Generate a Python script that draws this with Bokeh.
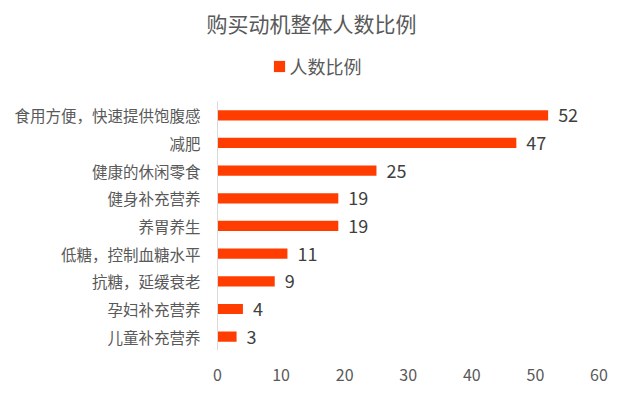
from bokeh.plotting import figure
from bokeh.models import (ColumnDataSource, Range1d, LabelSet, Label, Legend, LegendItem)
from bokeh.core.properties import value
from bokeh.embed import file_html
from bokeh.resources import INLINE

categories = ["食用方便，快速提供饱腹感", "减肥", "健康的休闲零食", "健身补充营养", "养胃养生",
              "低糖，控制血糖水平", "抗糖，延缓衰老", "孕妇补充营养", "儿童补充营养"]
values = [52, 47, 25, 19, 19, 11, 9, 4, 3]
series_name = "人数比例"
title_text = "购买动机整体人数比例"
x_ticks = [0, 10, 20, 30, 40, 50, 60]

FONT = "Noto Sans CJK SC"
BAR = "#FF3D00"
GRAY = "#595959"

# layout (pixels)
W, H = 619, 398
BOTTOM = 48                  # space for x tick labels
X0_PX, X60_PX = 217, 598.5   # pixel positions of x=0 and x=60
BAND = 27.67                 # pixel height of one category band

n = len(categories)
pos = [n - 1 - i for i in range(n)]   # top category highest

src = ColumnDataSource(dict(cat=categories, pos=pos, val=values,
                            lab=[str(v) for v in values], zero=[0] * n))

k = (X60_PX - X0_PX) / (x_ticks[-1] - x_ticks[0])
frame_h = H - BOTTOM
p = figure(width=W, height=H, output_backend="svg", toolbar_location=None, title=None,
           x_range=Range1d(-X0_PX / k, (W - X0_PX) / k),
           y_range=Range1d(-0.5, -0.5 + frame_h / BAND),
           min_border_left=0, min_border_right=0, min_border_top=0,
           min_border_bottom=BOTTOM)
p.outline_line_color = None
p.background_fill_color = "white"
p.border_fill_color = "white"
p.xgrid.grid_line_color = None
p.ygrid.grid_line_color = None
p.yaxis.visible = False

bars = p.hbar(y="pos", right="val", left=0, height=0.37, source=src,
              fill_color=BAR, line_color=None)

# category axis line
p.segment(x0=[0], y0=[-0.5], x1=[0], y1=[n - 0.5], line_color="#D9D9D9", line_width=1)

p.xaxis.ticker = x_ticks
p.xaxis.axis_line_color = None
p.xaxis.major_tick_line_color = None
p.xaxis.minor_tick_line_color = None
p.xaxis.major_tick_out = 0
p.xaxis.major_label_standoff = 18
p.xaxis.major_label_text_font = FONT
p.xaxis.major_label_text_font_size = "16px"
p.xaxis.major_label_text_color = GRAY

cat_labels = LabelSet(x="zero", y="pos", text="cat", source=src, x_offset=-17,
                      text_baseline="middle", text_align="right",
                      text_font=value(FONT), text_font_size=value("15.5px"),
                      text_color=value(GRAY))
p.add_layout(cat_labels)

val_labels = LabelSet(x="val", y="pos", text="lab", source=src, x_offset=10,
                      text_baseline="middle", text_align="left",
                      text_font=value(FONT), text_font_size=value("18px"),
                      text_color=value("#404040"))
p.add_layout(val_labels)

title = Label(x=311, y=frame_h - 22.5, x_units="screen", y_units="screen", text=title_text,
              text_align="center", text_baseline="middle",
              text_font=FONT, text_font_size="21px", text_color=GRAY)
p.add_layout(title)

legend = Legend(items=[LegendItem(label=series_name, renderers=[bars])],
                location=(271.5, frame_h - 79), orientation="horizontal",
                padding=0, margin=0, border_line_color=None, background_fill_alpha=0,
                glyph_width=14, glyph_height=14, label_standoff=4, label_height=20,
                label_text_font=FONT, label_text_font_size="18px", label_text_color=GRAY)
p.add_layout(legend)

open("out.html", "w").write(file_html(p, INLINE))
